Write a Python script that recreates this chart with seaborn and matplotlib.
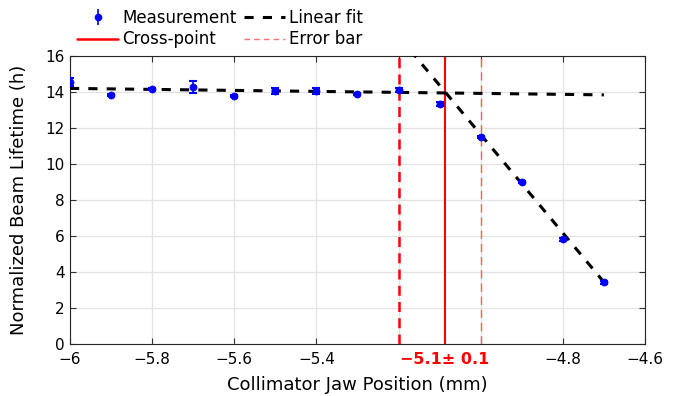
import numpy as np
import pandas as pd
import matplotlib
matplotlib.use("Agg")
import matplotlib.pyplot as plt
import seaborn as sns
from matplotlib.lines import Line2D

# ---- data ----
jaw_pos = [-6.0, -5.9, -5.8, -5.7, -5.6, -5.5, -5.4, -5.3, -5.2, -5.1, -5.0, -4.9, -4.8, -4.7]
lifetime = [14.56, 13.83, 14.17, 14.28, 13.78, 14.06, 14.06, 13.89, 14.11, 13.33, 11.5, 9.0, 5.83, 3.44]
lifetime_err = [0.2, 0.08, 0.06, 0.35, 0.08, 0.15, 0.15, 0.08, 0.1, 0.1, 0.08, 0.08, 0.08, 0.08]

fit_flat_x = [-6.0, -4.7]
fit_flat_y = [14.2, 13.84]
fit_steep_x = [-5.2, -4.7]
fit_steep_y = [17.1, 3.44]

cross_point = -5.088
cross_err_low = -5.2
cross_err_high = -5.0
cross_label = "\u22125.1\u00b1 0.1"

x_ticks = [-6.0, -5.8, -5.6, -5.4, -4.8, -4.6]
x_tick_labels = ["\u22126", "\u22125.8", "\u22125.6", "\u22125.4", "\u22124.8", "\u22124.6"]
y_ticks = [0, 2, 4, 6, 8, 10, 12, 14, 16]

df = pd.DataFrame({"x": jaw_pos, "y": lifetime, "err": lifetime_err})
fit1 = pd.DataFrame({"x": fit_flat_x, "y": fit_flat_y})
fit2 = pd.DataFrame({"x": fit_steep_x, "y": fit_steep_y})

sns.set_style("ticks")
plt.rcParams['font.family'] = ['DejaVu Sans']
plt.rcParams['text.color'] = 'black'
plt.rcParams['axes.labelcolor'] = 'black'
plt.rcParams['xtick.color'] = '#333333'
plt.rcParams['ytick.color'] = '#333333'
plt.rcParams['xtick.labelcolor'] = 'black'
plt.rcParams['ytick.labelcolor'] = 'black'

fig = plt.figure(figsize=(6.89, 3.96), dpi=100)
ax = fig.add_axes([0.1016, 0.1313, 0.8345, 0.7273])

# grid lines
for gx in [-6.0, -5.8, -5.6, -5.4, -5.2, -5.0, -4.8, -4.6]:
    ax.axvline(gx, color="#e3e3e3", lw=0.9, zorder=0)
for gy in y_ticks:
    ax.axhline(gy, color="#e3e3e3", lw=0.9, zorder=0)

# vertical lines
ax.axvline(cross_err_low, color="red", lw=1.8, ls=(0, (4, 2.5)), zorder=2)
ax.axvline(cross_err_high, color="#ff5c5c", lw=1.0, ls=(0, (6, 3.5)), zorder=2)
ax.axvline(cross_point, color="red", lw=1.5, zorder=2)

# fit lines
sns.lineplot(data=fit1, x="x", y="y", ax=ax, color="black", lw=2.2,
             linestyle=(0, (3, 3)), zorder=3)
sns.lineplot(data=fit2, x="x", y="y", ax=ax, color="black", lw=2.2,
             linestyle=(0, (3, 3)), zorder=3)

# measurements
ax.errorbar(df["x"], df["y"], yerr=df["err"], fmt="none", ecolor="blue",
            elinewidth=1.2, capsize=3, capthick=1.5, zorder=4)
sns.scatterplot(data=df, x="x", y="y", ax=ax, color="blue", s=26,
                edgecolor="blue", linewidth=0.5, zorder=5)

ax.set_xlim(-6.0, -4.6)
ax.set_ylim(0, 16)

ticks_all = x_ticks[:4] + [cross_err_low, cross_point, cross_err_high] + x_ticks[4:]
labels_all = x_tick_labels[:4] + ["", cross_label, ""] + x_tick_labels[4:]
ax.set_xticks(ticks_all)
ax.set_xticklabels(labels_all, fontsize=11)
for t, lab in zip(ax.get_xticklabels(), labels_all):
    if lab == cross_label:
        t.set_color("red")
        t.set_fontweight("bold")
        t.set_fontsize(11.5)
for i, tl in enumerate(ax.xaxis.get_ticklines()):
    idx = i // 2
    if ticks_all[idx] in (cross_err_low, cross_point, cross_err_high):
        tl.set_color("red")
ax.set_yticks(y_ticks)
ax.set_yticklabels([str(v) for v in y_ticks], fontsize=11)
ax.tick_params(direction="in", top=True, right=True, length=4, width=0.8)
ax.tick_params(axis="x", pad=6)
ax.tick_params(axis="y", pad=4)

for sp in ax.spines.values():
    sp.set_visible(True)
    sp.set_linewidth(0.8)
    sp.set_color("#262626")

ax.set_xlabel("Collimator Jaw Position (mm)", fontsize=13, labelpad=6)
ax.set_ylabel("Normalized Beam Lifetime (h)", fontsize=13, labelpad=12)

# legend
meas_handle = ax.errorbar([], [], yerr=[], fmt="o", color="blue", ms=4.5,
                          capsize=3, elinewidth=1.2, capthick=1.5)
handles = [
    meas_handle,
    Line2D([], [], color="black", lw=2.2, ls=(0, (3, 3))),
    Line2D([], [], color="red", lw=1.8),
    Line2D([], [], color="#ff7070", lw=1.0, ls=(0, (4, 3))),
]
labels = ["Measurement", "Linear fit", "Cross-point", "Error bar"]
order = [0, 2, 1, 3]
leg = fig.legend([handles[i] for i in order], [labels[i] for i in order],
                 ncol=2, loc="upper left", bbox_to_anchor=(0.112, 0.978),
                 frameon=False, fontsize=12, handlelength=2.45, handletextpad=0.25,
                 columnspacing=0.45, labelspacing=0.22, borderpad=0, borderaxespad=0)

fig.savefig("out.png", dpi=100)
